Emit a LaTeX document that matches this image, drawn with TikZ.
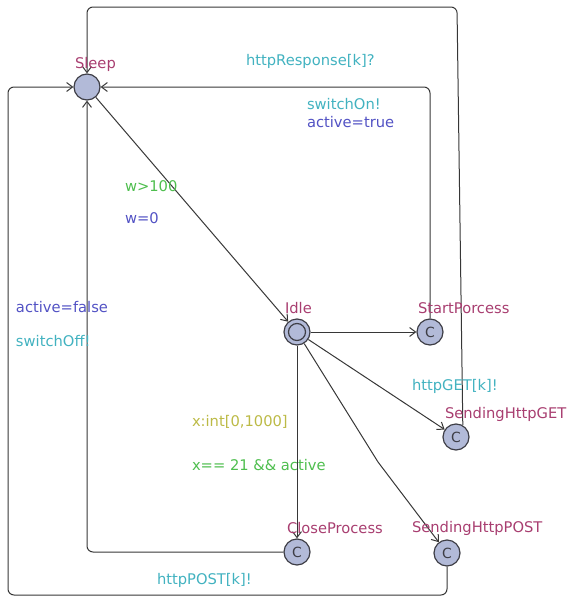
\documentclass[tikz,border=0pt]{standalone}
\usepackage{fontspec}
\setmainfont{DejaVu Sans}
\usetikzlibrary{arrows.meta}
\definecolor{locname}{RGB}{168,62,112}
\definecolor{synccol}{RGB}{66,178,192}
\definecolor{guardcol}{RGB}{78,190,78}
\definecolor{updatecol}{RGB}{82,82,196}
\definecolor{selectcol}{RGB}{188,186,70}
\definecolor{locfill}{RGB}{178,186,216}
\definecolor{locline}{RGB}{62,62,70}
\definecolor{edgeline}{RGB}{55,55,55}
\tikzset{
  loc/.style={circle, draw=locline, fill=locfill, line width=1.2pt, minimum size=26pt, inner sep=0, text=locline, font=\fontsize{14pt}{14pt}\selectfont},
  edge/.style={draw=edgeline, line width=1pt, rounded corners=6pt, -{Straight Barb[length=6pt,width=9pt]}},
  lbl/.style={inner sep=0, outer sep=0, anchor=base west, font=\fontsize{14.7pt}{14.7pt}\selectfont},
}
\begin{document}
\begin{tikzpicture}[x=1pt,y=-1pt]
\useasboundingbox (0,0) rectangle (567,597);
% locations
\node[loc] (sleep) at (87,87) {};
\node[loc] (idle) at (297,332) {};
\draw[locline, line width=1.2pt] (idle.center) circle (8.5pt);
\node[loc] (start) at (430,332) {C};
\node[loc] (get) at (456,437) {C};
\node[loc] (close) at (297,552) {C};
\node[loc] (post) at (447,553) {C};
% corner points
\coordinate (gettop) at (457,7);
\coordinate (sleeptop) at (87,7);
\coordinate (postnail) at (378,462);
\coordinate (postdown) at (447,595);
\coordinate (leftdown) at (8,595);
\coordinate (leftup) at (8,87);
% edges
\draw[edge] (sleep) -- (idle);
\draw[edge] (idle) -- (start);
\draw[edge] (start) |- (sleep);
\draw[edge] (idle) -- (get);
\draw[edge] (get.60) -- (gettop) -- (sleeptop) -- (sleep);
\draw[edge, rounded corners=0pt] (idle) -- (postnail) -- (post);
\draw[edge] (post) -- (postdown) -- (leftdown) -- (leftup) -- (sleep);
\draw[edge] (idle) -- (close);
\draw[edge] (close) -| (sleep);
% names
\node[lbl, locname] (sleepname) at (75,68) {Sleep};
\node[lbl, locname] (idlename) at (285,313) {Idle};
\node[lbl, locname] (startname) at (418,313) {StartPorcess};
\node[lbl, locname] (getname) at (445,418) {SendingHttpGET};
\node[lbl, locname] (closename) at (287,533) {CloseProcess};
\node[lbl, locname] (postname) at (412,532) {SendingHttpPOST};
% edge labels
\node[lbl, synccol] (resplbl) at (246,65) {httpResponse[k]?};
\node[lbl, synccol] (onlbl) at (307,109) {switchOn!};
\node[lbl, updatecol] (truelbl) at (307,127) {active=true};
\node[lbl, guardcol] (wguard) at (125,191) {w>100};
\node[lbl, updatecol] (wreset) at (125,223) {w=0};
\node[lbl, updatecol] (falselbl) at (16,312) {active=false};
\node[lbl, synccol] (offlbl) at (16,346) {switchOff!};
\node[lbl, synccol] (getlbl) at (412,390) {httpGET[k]!};
\node[lbl, selectcol] (xsel) at (192,426) {x:int[0,1000]};
\node[lbl, guardcol] (xguard) at (192,470) {x== 21 \&\& active};
\node[lbl, synccol] (postlbl) at (157,584) {httpPOST[k]!};
\end{tikzpicture}
\end{document}
